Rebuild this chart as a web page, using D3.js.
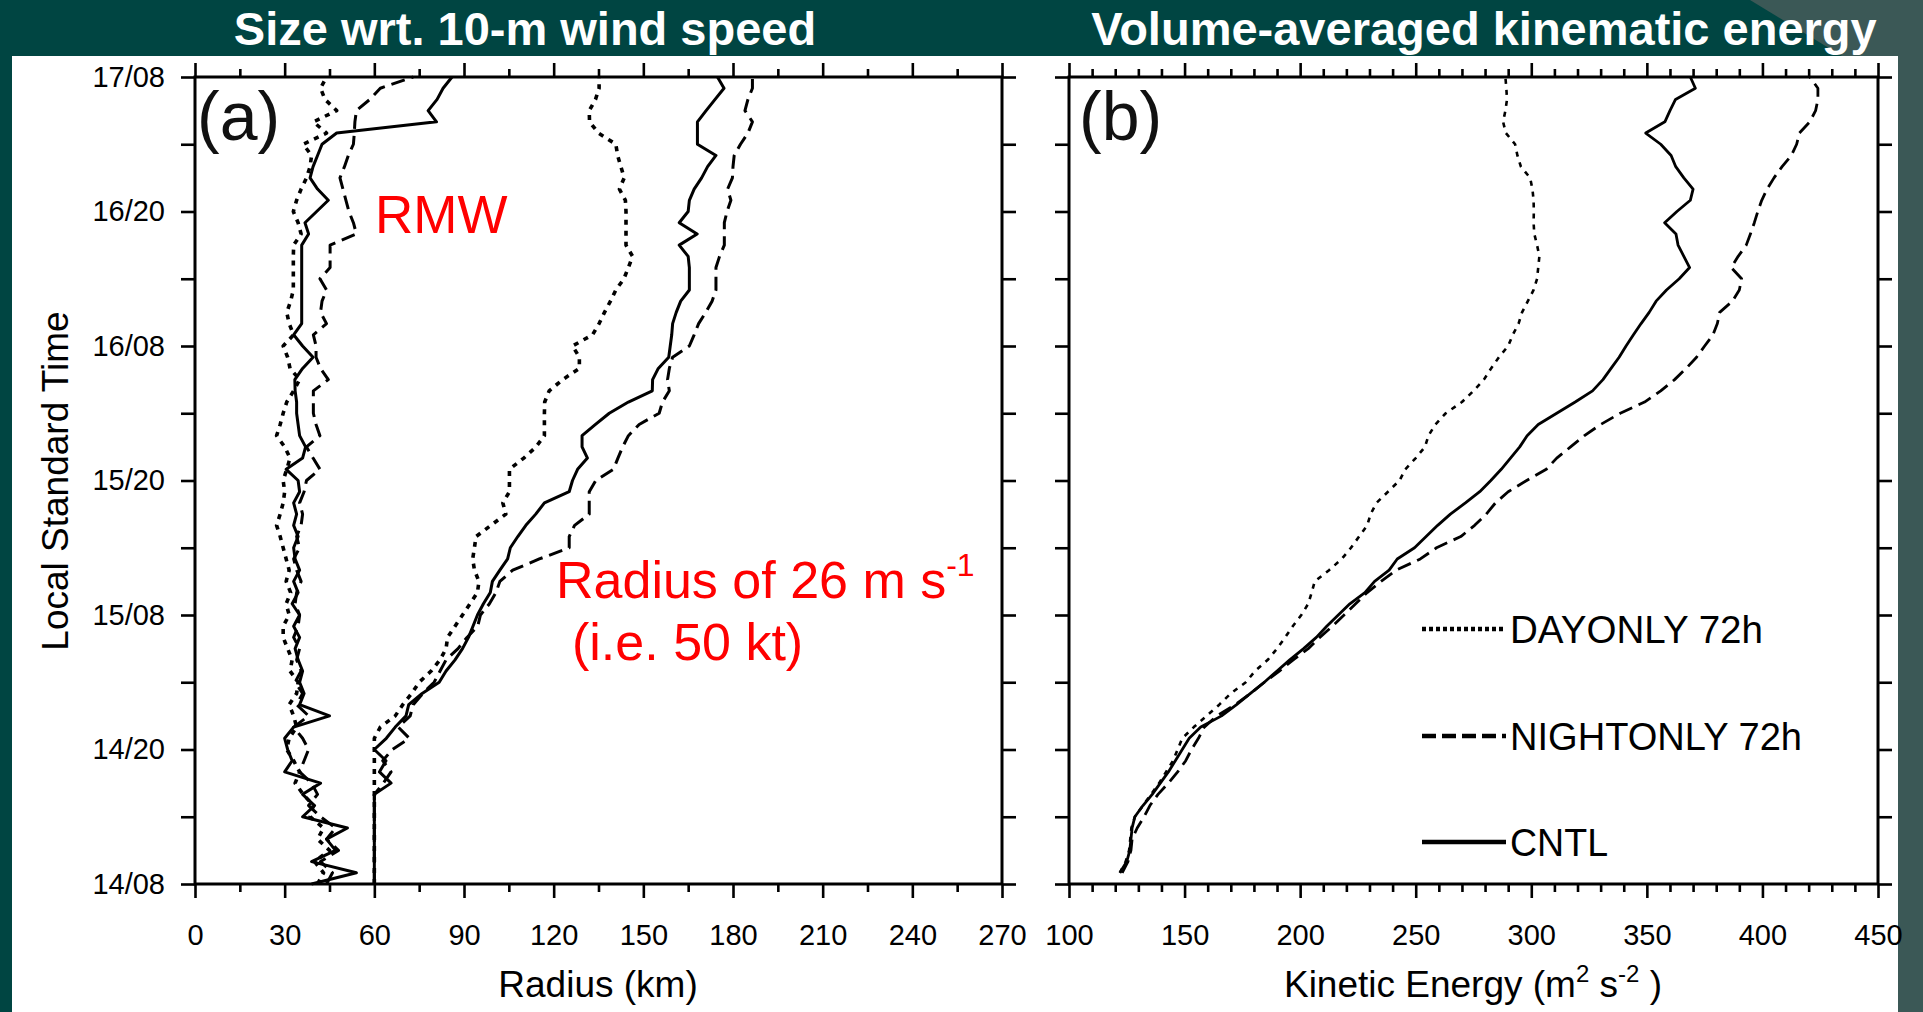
<!DOCTYPE html>
<html>
<head>
<meta charset="utf-8">
<script src="https://cdn.jsdelivr.net/npm/d3@7"></script>
<style>
  html, body { margin: 0; padding: 0; background: #004542; overflow: hidden; }
  svg { display: block; }
  text { font-family: "Liberation Sans", Arial, Helvetica, sans-serif; }
</style>
</head>
<body>
<svg id="fig" width="1923" height="1012"></svg>
<script>
// ---------------- data ----------------
// hours after 14/08 08 LST (hourly model output)
const hoursA = d3.range(0, 73);
const hoursB = d3.range(1, 73);

// radius of maximum wind (km)
const rmwCntl = [39,54,39,47,44,51,36,40,36,42,30,32.5,31,30,33,45,35,36.5,35,36,34.5,33.5,35,33,35,
  32.5,34.5,33,35,33.5,33,34.5,33,34,33,35,34.5,30.5,36,37,35,34.5,34,34,33.5,33.4,36,39.5,36,33,
  35.7,35.7,35.7,35.7,35.7,35.7,35.7,35.7,38,36.8,40.7,44.6,41,38.5,39.5,41,42.5,47.4,80.8,78,81,83,86];
const rmwNight = [44,46,42,48,44,47,42,38,41,39,35,36.5,38,36,33,38,34,36,33.5,35.5,34,35,33,34.5,35,
  33.5,34,35.5,34,33,35,34,35.5,36,35,36.5,37.3,41.8,39.5,37.3,41.8,40.5,39.6,39.6,39.6,44.6,42,40.5,40.5,39.6,
  44,42,42.5,44,41.8,45.2,45.2,45.2,54,53,51.5,50.5,49.5,48.5,50,51.3,53,53.3,53.5,54,58.5,62,73];
const rmwDay = [41,43,40,45,41,43,38.5,39.6,36.2,33.5,35,33,30.7,31.5,34,33,31.5,34,34.5,31.8,32.5,31,29.5,29.5,31.5,
  30.5,32,30.5,31.5,30.5,29.5,28.5,27.3,28.5,29.5,30,29.5,30.7,31.8,30,27.3,28.5,29.5,30.7,33,35,31.8,31,29.5,33,
  31.5,30.7,32,32.9,32.9,32.9,32.9,33,35.5,34.5,32.9,34,35.5,37.3,38.5,39,36.2,44,39.6,47.4,43.5,42,44];

// radius of 26 m/s wind (km)
const r26Cntl = [60,60,60,60,60,60,60,60,60,65.6,61.7,63.9,60,64,67,70.6,71.5,76,81.7,84,87,89.5,91.5,93,94.5,
  96.5,98.8,99.5,102,104.6,105.5,108,110.7,114,116.9,125.2,126.3,128,131.3,129.5,129.5,134,138.6,145,153,153.1,155,158.5,159,159.5,
  159.8,161,162.5,165.4,165.4,165.4,165,162,168,162,165,165.4,167,169.5,171.5,174.3,168.1,168.1,168.1,171,174,177,174.8];
const r26Night = [60,60,60,60,60,60,60,60,60,63,65.6,62.8,66,71.7,68,72,73,76.2,80,82,84,88,91,94.6,95.5,
  98.5,100.7,102,106.3,115.2,125.2,125.2,127,131.9,131.9,131.9,134.1,140,141.5,143.1,145,148.6,155.3,156.4,158.7,158.1,158.7,159.8,165.4,167,
  168.5,170.9,173,174.3,174.3,174.3,175.5,177.1,177.1,177.1,178,179.3,178.2,179.8,180,180.4,182.5,185,186.5,184,185,186.5,186.5];
const r26Day = [60,60,60,60,60,60,60,60,60,60,60,60,60,60,62,67,69.5,72.5,75,79,82,84,84.5,87,89.5,
  92,94.5,95,93.5,92.9,93.5,94,99,104,103,105.2,105.2,105.2,110,114.1,116.9,116.9,116.9,117,118.5,123,128.6,128.6,126.3,133,
  135.2,137,139,140.8,143.5,145,146.4,144.2,144.2,144.2,144.2,144,142,143.6,142.5,141.4,140.8,135,132,131.9,134,135.2,135.2];

// volume-averaged kinetic energy (m2 s-2)
const keCntl = [122,125,126.3,126.8,127.3,128.5,132,136,139.5,143,146,149,
  152,157,166,172.5,178.5,184.5,190,195.5,201.5,207,211.5,216.5,
  221.5,228,232.2,238.5,242,249.5,254.5,259.5,265,271.5,277.7,282.5,
  287,291,295,298.2,303,311,319,326.5,331,334.5,338,341,
  344.2,347.5,351,354,358.5,364,368.5,366,363.5,362.6,357.7,363,
  368.8,370,366,362.5,360.5,356,349.5,357.8,360,362.4,371,368.8];
const keDay = [122,124.5,126,126.5,127,128.5,132,135.5,139,142,145,147,
  149,154,159.5,165,170,176.5,180.5,186,190,193.5,196.8,200.5,
  203.5,205,206.3,212.5,218,222,225.5,229,230.5,233,238,243,
  245.5,250,254,255.5,258.5,263,270,275,279.5,282.6,286,290,
  292,294.5,296,298.5,301,302.5,303,303.5,302.5,301.3,301,301.1,
  301,300.5,299.5,295.5,294,293,289,287.8,288.8,289.5,289.2,288.8];
const keNight = [123,125.5,126.8,127.3,129.5,132.5,135,138.5,143,147,150.5,153,
  156,158.5,164,171.9,178.5,184.5,191,197,203.5,208.5,214,219,
  224,229,235,241.5,252,259,269.5,275.5,280.5,284.5,290,298,
  306.5,311,317,323,330,338.5,349,356,362,367,371.5,375,
  378.6,380.5,381.5,387,390,391,386.5,389.5,393,394.8,396.5,398,
  399.7,402,405,408.5,412.5,414.8,416,420.5,423,424,424,420.5];

// axis ticks and labels
const timeTicks = d3.range(0, 73, 6);
const timeLabelTicks = [0, 12, 24, 36, 48, 60, 72];
const timeLabels = ["14/08", "14/20", "15/08", "15/20", "16/08", "16/20", "17/08"];
const radiusTicks = d3.range(0, 271, 30);
const radiusMinor = d3.range(15, 270, 30);
const keTicks = d3.range(100, 451, 50);
const keMinor = d3.range(110, 450, 10).filter(v => v % 50 !== 0);

const legendNames = ["DAYONLY 72h", "NIGHTONLY 72h", "CNTL"];

// ---------------- layout ----------------
const svg = d3.select("#fig");
const W = 1923, H = 1012;
const plotTop = 77, plotBottom = 884;

// slide background
svg.append("rect").attr("width", W).attr("height", H).attr("fill", "#004542");
svg.append("rect").attr("x", 12).attr("y", 56).attr("width", 1886).attr("height", H - 56).attr("fill", "#ffffff");
svg.append("rect").attr("x", 1898).attr("y", 0).attr("width", W - 1898).attr("height", H).attr("fill", "#3b5856");
svg.append("polygon").attr("points", "1750,0 1923,0 1923,56 1842,56").attr("fill", "#3b5856");

// headings
svg.append("text").attr("x", 525).attr("y", 45).attr("text-anchor", "middle")
  .attr("font-size", 47).attr("font-weight", "bold").attr("fill", "#ffffff")
  .text("Size wrt. 10-m wind speed");
svg.append("text").attr("x", 1484).attr("y", 45).attr("text-anchor", "middle")
  .attr("font-size", 47).attr("font-weight", "bold").attr("fill", "#ffffff")
  .text("Volume-averaged kinematic energy");

const y = d3.scaleLinear().domain([0, 72]).range([plotBottom, plotTop]);
const xA = d3.scaleLinear().domain([0, 270]).range([195, 1002]);
const xB = d3.scaleLinear().domain([100, 450]).range([1069, 1878]);

const styles = {
  solid:  { dash: null },
  dashed: { dash: "14,7" },
  dotted: { dash: "5,6" }
};

function drawFrame(x, ticks, minor, showTimeLabels) {
  const g = svg.append("g");
  const [x0, x1] = x.range();
  const styleAxis = sel => {
    sel.select(".domain").remove();
    sel.selectAll(".tick line").attr("stroke", "#000").attr("stroke-width", 2.6);
    sel.selectAll(".tick text").attr("font-size", 29).attr("fill", "#000")
      .attr("font-family", "'Liberation Sans', Arial, sans-serif");
  };
  // bottom axis (labels) and minor ticks
  g.append("g").attr("transform", `translate(0,${plotBottom})`)
    .call(d3.axisBottom(x).tickValues(ticks).tickSize(14).tickPadding(26).tickFormat(d3.format("d")))
    .call(styleAxis);
  g.append("g").attr("transform", `translate(0,${plotBottom})`)
    .call(d3.axisBottom(x).tickValues(minor).tickSize(8).tickFormat(""))
    .call(styleAxis);
  // top axis
  g.append("g").attr("transform", `translate(0,${plotTop})`)
    .call(d3.axisTop(x).tickValues(ticks).tickSize(14).tickFormat(""))
    .call(styleAxis);
  g.append("g").attr("transform", `translate(0,${plotTop})`)
    .call(d3.axisTop(x).tickValues(minor).tickSize(8).tickFormat(""))
    .call(styleAxis);
  // left / right time axes
  const left = d3.axisLeft(y).tickValues(timeTicks).tickSize(14).tickPadding(16)
    .tickFormat(d => {
      if (!showTimeLabels) return "";
      const i = timeLabelTicks.indexOf(d);
      return i >= 0 ? timeLabels[i] : "";
    });
  g.append("g").attr("transform", `translate(${x0},0)`).call(left).call(styleAxis);
  g.append("g").attr("transform", `translate(${x1},0)`)
    .call(d3.axisRight(y).tickValues(timeTicks).tickSize(14).tickFormat("")).call(styleAxis);
  // frame
  g.append("rect").attr("x", x0).attr("y", plotTop).attr("width", x1 - x0).attr("height", plotBottom - plotTop)
    .attr("fill", "none").attr("stroke", "#000").attr("stroke-width", 3);
  return g;
}

function drawSeries(x, hours, values, style, width) {
  const pts = hours.map((h, i) => [values[i], h]);
  svg.append("path")
    .attr("d", d3.line().x(d => x(d[0])).y(d => y(d[1]))(pts))
    .attr("fill", "none").attr("stroke", "#000").attr("stroke-width", width)
    .attr("stroke-linejoin", "round")
    .attr("stroke-dasharray", styles[style].dash);
}

// ---------------- panel (a) ----------------
drawFrame(xA, radiusTicks, radiusMinor, true);
drawSeries(xA, hoursA, rmwDay, "dotted", 3.6);
drawSeries(xA, hoursA, rmwNight, "dashed", 3);
drawSeries(xA, hoursA, rmwCntl, "solid", 3);
drawSeries(xA, hoursA, r26Day, "dotted", 3.6);
drawSeries(xA, hoursA, r26Night, "dashed", 3);
drawSeries(xA, hoursA, r26Cntl, "solid", 3);

svg.append("text").attr("x", 197).attr("y", 140).attr("font-size", 68).attr("fill", "#111")
  .text("(a)");
svg.append("text").attr("x", 375).attr("y", 233).attr("font-size", 53).attr("fill", "#ff0000")
  .text("RMW");
const r26Label = svg.append("text").attr("x", 556).attr("y", 598).attr("font-size", 52).attr("fill", "#ff0000");
r26Label.append("tspan").text("Radius of 26 m s");
r26Label.append("tspan").attr("font-size", 32).attr("dy", -22).text("-1");
svg.append("text").attr("x", 572).attr("y", 660).attr("font-size", 52).attr("fill", "#ff0000")
  .text("(i.e. 50 kt)");

svg.append("text").attr("transform", "translate(68,481) rotate(-90)")
  .attr("text-anchor", "middle").attr("font-size", 37).attr("fill", "#000")
  .text("Local Standard Time");
svg.append("text").attr("x", 598).attr("y", 997).attr("text-anchor", "middle")
  .attr("font-size", 37).attr("fill", "#000").text("Radius (km)");

// ---------------- panel (b) ----------------
drawFrame(xB, keTicks, keMinor, false);
drawSeries(xB, hoursB, keDay, "dotted", 2.6);
drawSeries(xB, hoursB, keNight, "dashed", 2.8);
drawSeries(xB, hoursB, keCntl, "solid", 2.8);

svg.append("text").attr("x", 1079).attr("y", 140).attr("font-size", 68).attr("fill", "#111")
  .text("(b)");

const keLabel = svg.append("text").attr("x", 1473).attr("y", 997).attr("text-anchor", "middle")
  .attr("font-size", 37).attr("fill", "#000");
keLabel.append("tspan").text("Kinetic Energy (m");
keLabel.append("tspan").attr("font-size", 24).attr("dy", -15).text("2");
keLabel.append("tspan").attr("dy", 15).text(" s");
keLabel.append("tspan").attr("font-size", 24).attr("dy", -15).text("-2");
keLabel.append("tspan").attr("dy", 15).text(" )");

// legend
const legendY = [629, 736, 842];
const legendWidth = [253, 292, 98];
const legendStyle = [["dotted", "4,3"], ["dashed", "14,6"], ["solid", null]];
legendNames.forEach((name, i) => {
  svg.append("line").attr("x1", 1422).attr("x2", 1506).attr("y1", legendY[i]).attr("y2", legendY[i])
    .attr("stroke", "#000").attr("stroke-width", 4.5)
    .attr("stroke-dasharray", legendStyle[i][1]);
  svg.append("text").attr("x", 1510).attr("y", legendY[i] + 14).attr("font-size", 38).attr("fill", "#000")
    .attr("textLength", legendWidth[i]).attr("lengthAdjust", "spacingAndGlyphs")
    .text(name);
});
</script>
</body>
</html>
